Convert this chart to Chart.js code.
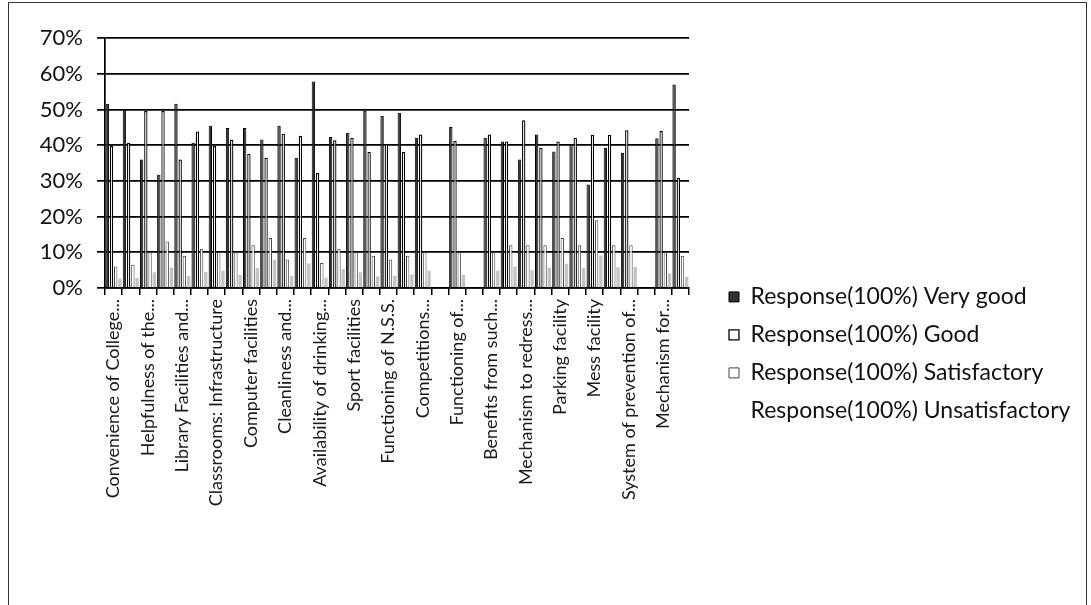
<!DOCTYPE html>
<html><head><meta charset="utf-8">
<script src="https://cdn.jsdelivr.net/npm/chart.js@4.4.1/dist/chart.umd.min.js"></script>
<style>
html,body{margin:0;padding:0;background:#fff;}
#wrap{position:relative;width:1091px;height:605px;overflow:hidden;background:#fff;}
#frame{position:absolute;left:8px;top:2px;width:1077px;height:700px;border:1.5px solid #333;border-bottom:none;}
canvas{position:absolute;left:0;top:0;}
</style></head><body>
<div id="wrap"><div id="frame"></div><canvas id="c" width="1091" height="605"></canvas></div>
<script>
// 34 categories; only every other label is visible in the reference (others unknown)
const categories = [
  'Convenience of College...', '',
  'Helpfulness of the...', '',
  'Library Facilities and...', '',
  'Classrooms: Infrastructure', '',
  'Computer facilities', '',
  'Cleanliness and...', '',
  'Availability of drinking...', '',
  'Sport facilities', '',
  'Functioning of N.S.S.', '',
  'Competitions...', '',
  'Functioning of...', '',
  'Benefits from such...', '',
  'Mechanism to redress...', '',
  'Parking facility', '',
  'Mess facility', '',
  'System of prevention of...', '',
  'Mechanism for...', ''
];
const seriesNames = [
  'Response(100%) Very good',
  'Response(100%) Good',
  'Response(100%) Satisfactory',
  'Response(100%) Unsatisfactory'
];
const veryGood = [51.6,50,36,31.7,51.6,40.7,45.4,44.8,44.8,41.6,45.4,36.5,57.8,42.3,43.5,49.6,48.2,49.1,42.1,0,45.1,0,42.1,41,36,43,38.2,40.3,29,39.3,37.9,0,41.9,57];
const good = [39.8,40.7,49.6,49.6,36,43.8,39.8,41.5,37.6,36.5,43.2,42.6,32.3,41.4,42.1,38.1,40.4,38.1,43,0,41.2,0,43,41,47,39.3,41,42.1,42.9,42.9,44.2,0,44,30.9];
const satisfactory = [6,6.5,10,13,9,11,10,10,12,14,8,14,7,11,10,9,8,9,10,0,10,0,10,12,12,12,14,12,19,12,12,0,10,9];
const unsatisfactory = [2.6,2.8,4.4,5.7,3.4,4.5,4.8,3.7,5.6,7.9,3.4,6.9,2.9,5.3,4.4,3.3,3.4,3.8,4.9,0,3.7,0,4.9,6,5,5.7,6.8,5.6,9.1,5.8,5.9,0,4.1,3.1];
const yTicks = [0,10,20,30,40,50,60,70];

const FONT = "Lato, 'Liberation Sans', sans-serif";
const W = 1091, PLOT_RIGHT = 689;
const LEG_FONT = 23, LEG_PAD = 15, LEG_BOX = 10, LEG_BOX_X = 729;
const mctx = document.createElement('canvas').getContext('2d');
mctx.font = LEG_FONT + 'px ' + FONT;
const maxTextW = Math.max(...seriesNames.map(t => mctx.measureText(t).width));
const legendW = LEG_PAD + LEG_BOX + LEG_FONT / 2 + maxTextW + 10;
const spacerW = LEG_BOX_X - LEG_PAD - PLOT_RIGHT;
const padRight = Math.max(0, W - PLOT_RIGHT - legendW - spacerW);

const ctx = document.getElementById('c').getContext('2d');
new Chart(ctx, {
  type: 'bar',
  data: {
    labels: categories,
    datasets: [
      {label: seriesNames[0], data: veryGood, backgroundColor: '#333', borderColor: '#000', borderWidth: 1},
      {label: seriesNames[1], data: good, backgroundColor: '#fff', borderColor: '#000', borderWidth: 1.3},
      {label: seriesNames[2], data: satisfactory, backgroundColor: '#fff', borderColor: '#444', borderWidth: 1},
      {label: seriesNames[3], data: unsatisfactory, backgroundColor: '#c4c4c4', borderColor: '#c4c4c4', borderWidth: 0}
    ]
  },
  options: {
    responsive: false,
    animation: false,
    devicePixelRatio: 1,
    layout: {padding: {left: 20, top: 38, right: padRight, bottom: 18}},
    datasets: {bar: {categoryPercentage: 0.98, barPercentage: 0.8}},
    scales: {
      x: {
        offset: true,
        grid: {display: true, drawOnChartArea: false, drawTicks: true, tickLength: 7, color: '#000', lineWidth: 1.5, offset: true},
        border: {display: true, color: '#000', width: 1.5},
        ticks: {autoSkip: false, maxRotation: 90, minRotation: 90, padding: 4, color: '#1a1a1a',
          font: {family: FONT, size: 18},
          callback: (v, i) => categories[i]},
        afterFit: s => { s.height = 299; }
      },
      y: {
        min: 0, max: 70,
        afterBuildTicks: s => { s.ticks = yTicks.map(v => ({value: v})); },
        ticks: {callback: v => v + '%', color: '#111', padding: 14, font: {family: FONT, size: 22}},
        grid: {color: '#000', lineWidth: 1.7, tickLength: 8},
        border: {display: true, color: '#000', width: 1.7},
        afterFit: s => { s.width = 85; }
      },
      spacer: {
        type: 'linear', position: 'right', display: true,
        grid: {display: false}, border: {display: false}, ticks: {display: false},
        afterFit: s => { s.width = spacerW; }
      }
    },
    plugins: {
      tooltip: {enabled: false},
      legend: {
        position: 'right', align: 'start', maxWidth: 1000,
        title: {display: true, text: ' ', font: {size: 12}, padding: {top: 218, bottom: 0}},
        labels: {
          boxWidth: LEG_BOX, boxHeight: LEG_BOX, padding: LEG_PAD, color: '#111',
          font: {family: FONT, size: LEG_FONT},
          generateLabels: chart => {
            const items = Chart.defaults.plugins.legend.labels.generateLabels(chart);
            items[3].fillStyle = 'rgba(0,0,0,0)';
            items[3].strokeStyle = 'rgba(0,0,0,0)';
            items[3].lineWidth = 0;
            return items;
          }
        }
      }
    }
  }
});
</script>
</body></html>
